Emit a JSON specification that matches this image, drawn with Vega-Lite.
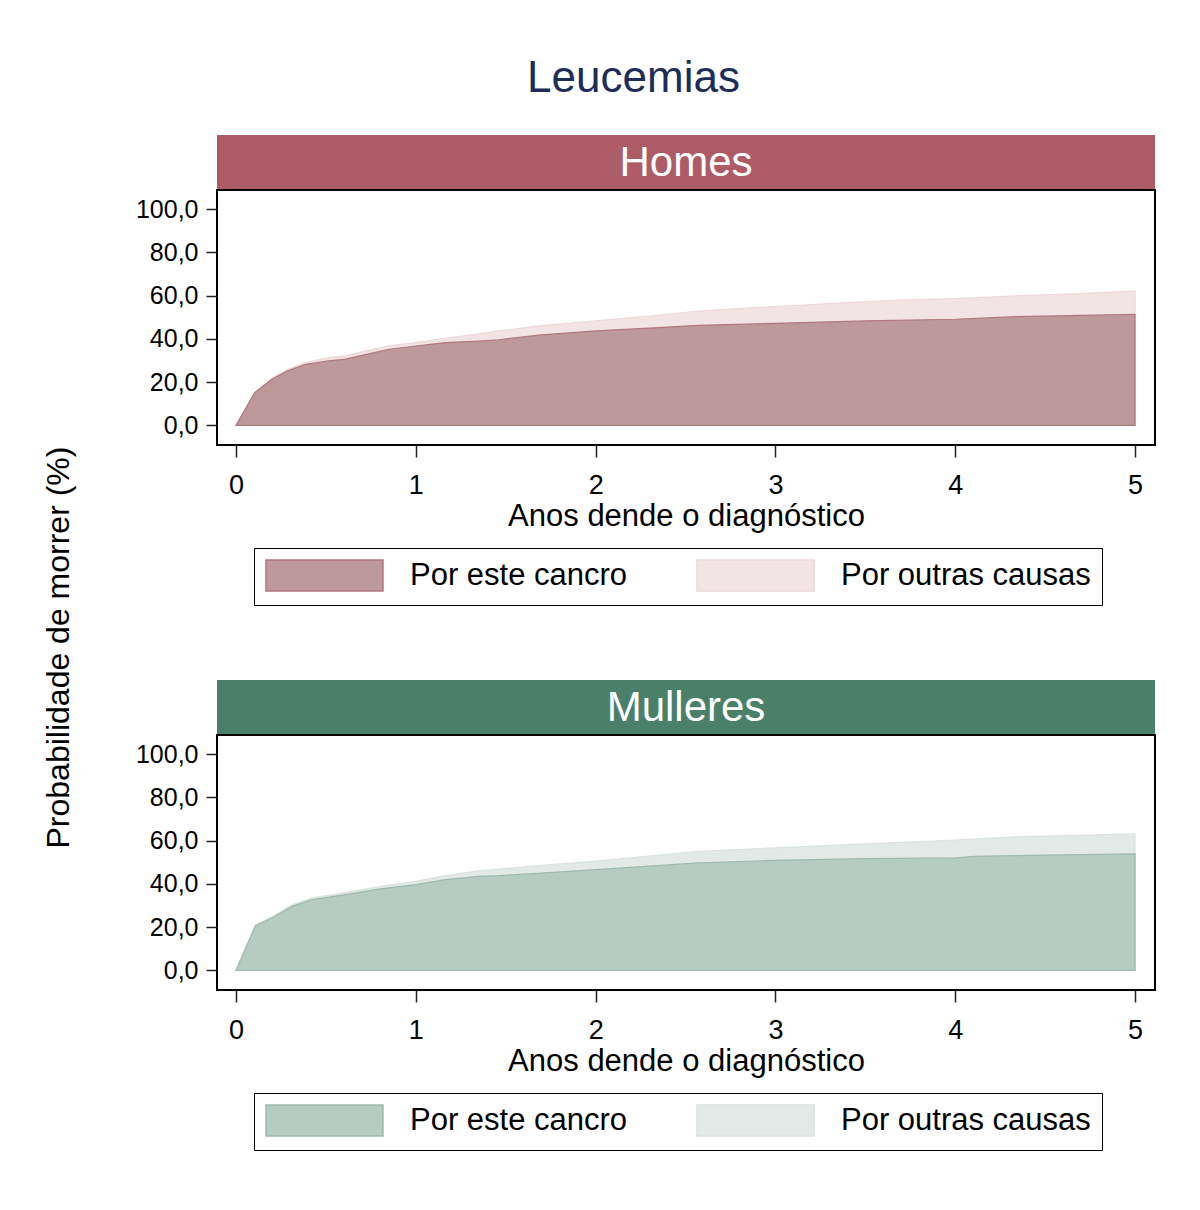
{
  "$schema": "https://vega.github.io/schema/vega-lite/v6.json",
  "padding": {"left": 41, "top": 57, "right": 10, "bottom": 10},
  "background": "white",
  "title": {"text": "Leucemias", "fontSize": 44, "fontWeight": "normal", "color": "#1c2d5a", "anchor": "middle", "dx": 35, "offset": 34},
  "config": {"font": "Liberation Sans", "view": {"stroke": null}},
  "datasets": {
    "homes": [
      {"t": 0, "v": 0, "causa": "Por outras causas"},
      {"t": 0.104, "v": 15.3, "causa": "Por outras causas"},
      {"t": 0.2, "v": 21.8, "causa": "Por outras causas"},
      {"t": 0.284, "v": 25.8, "causa": "Por outras causas"},
      {"t": 0.386, "v": 29.0, "causa": "Por outras causas"},
      {"t": 0.516, "v": 31.3, "causa": "Por outras causas"},
      {"t": 0.61, "v": 32.3, "causa": "Por outras causas"},
      {"t": 0.7, "v": 34.0, "causa": "Por outras causas"},
      {"t": 0.85, "v": 36.8, "causa": "Por outras causas"},
      {"t": 1.0, "v": 38.3, "causa": "Por outras causas"},
      {"t": 1.165, "v": 40.2, "causa": "Por outras causas"},
      {"t": 1.35, "v": 42.3, "causa": "Por outras causas"},
      {"t": 1.46, "v": 43.7, "causa": "Por outras causas"},
      {"t": 1.684, "v": 46.0, "causa": "Por outras causas"},
      {"t": 2.0, "v": 48.3, "causa": "Por outras causas"},
      {"t": 2.3, "v": 50.6, "causa": "Por outras causas"},
      {"t": 2.574, "v": 52.9, "causa": "Por outras causas"},
      {"t": 3.0, "v": 55.0, "causa": "Por outras causas"},
      {"t": 3.408, "v": 56.8, "causa": "Por outras causas"},
      {"t": 3.687, "v": 58.0, "causa": "Por outras causas"},
      {"t": 4.0, "v": 58.6, "causa": "Por outras causas"},
      {"t": 4.336, "v": 59.9, "causa": "Por outras causas"},
      {"t": 4.7, "v": 61.0, "causa": "Por outras causas"},
      {"t": 5.0, "v": 62.2, "causa": "Por outras causas"},
      {"t": 0, "v": 0, "causa": "Por este cancro"},
      {"t": 0.104, "v": 15.1, "causa": "Por este cancro"},
      {"t": 0.2, "v": 21.3, "causa": "Por este cancro"},
      {"t": 0.284, "v": 25.1, "causa": "Por este cancro"},
      {"t": 0.386, "v": 28.2, "causa": "Por este cancro"},
      {"t": 0.516, "v": 29.8, "causa": "Por este cancro"},
      {"t": 0.61, "v": 30.6, "causa": "Por este cancro"},
      {"t": 0.7, "v": 32.4, "causa": "Por este cancro"},
      {"t": 0.85, "v": 35.2, "causa": "Por este cancro"},
      {"t": 1.0, "v": 36.7, "causa": "Por este cancro"},
      {"t": 1.165, "v": 38.3, "causa": "Por este cancro"},
      {"t": 1.35, "v": 39.0, "causa": "Por este cancro"},
      {"t": 1.46, "v": 39.6, "causa": "Por este cancro"},
      {"t": 1.684, "v": 41.7, "causa": "Por este cancro"},
      {"t": 2.0, "v": 43.7, "causa": "Por este cancro"},
      {"t": 2.3, "v": 45.0, "causa": "Por este cancro"},
      {"t": 2.574, "v": 46.3, "causa": "Por este cancro"},
      {"t": 3.0, "v": 47.2, "causa": "Por este cancro"},
      {"t": 3.5, "v": 48.3, "causa": "Por este cancro"},
      {"t": 4.0, "v": 49.1, "causa": "Por este cancro"},
      {"t": 4.336, "v": 50.3, "causa": "Por este cancro"},
      {"t": 4.7, "v": 50.9, "causa": "Por este cancro"},
      {"t": 5.0, "v": 51.4, "causa": "Por este cancro"}
    ],
    "mulleres": [
      {"t": 0, "v": 0, "causa": "Por outras causas"},
      {"t": 0.108, "v": 21.0, "causa": "Por outras causas"},
      {"t": 0.2, "v": 24.8, "causa": "Por outras causas"},
      {"t": 0.312, "v": 30.3, "causa": "Por outras causas"},
      {"t": 0.423, "v": 33.5, "causa": "Por outras causas"},
      {"t": 0.61, "v": 36.0, "causa": "Por outras causas"},
      {"t": 0.794, "v": 38.8, "causa": "Por outras causas"},
      {"t": 1.0, "v": 41.2, "causa": "Por outras causas"},
      {"t": 1.165, "v": 43.8, "causa": "Por outras causas"},
      {"t": 1.35, "v": 46.0, "causa": "Por outras causas"},
      {"t": 1.63, "v": 48.1, "causa": "Por outras causas"},
      {"t": 2.0, "v": 50.5, "causa": "Por outras causas"},
      {"t": 2.574, "v": 55.1, "causa": "Por outras causas"},
      {"t": 3.0, "v": 56.7, "causa": "Por outras causas"},
      {"t": 3.5, "v": 58.5, "causa": "Por outras causas"},
      {"t": 4.0, "v": 60.3, "causa": "Por outras causas"},
      {"t": 4.34, "v": 61.8, "causa": "Por outras causas"},
      {"t": 5.0, "v": 63.1, "causa": "Por outras causas"},
      {"t": 0, "v": 0, "causa": "Por este cancro"},
      {"t": 0.108, "v": 20.7, "causa": "Por este cancro"},
      {"t": 0.2, "v": 24.2, "causa": "Por este cancro"},
      {"t": 0.312, "v": 29.6, "causa": "Por este cancro"},
      {"t": 0.423, "v": 32.7, "causa": "Por este cancro"},
      {"t": 0.61, "v": 35.0, "causa": "Por este cancro"},
      {"t": 0.794, "v": 37.6, "causa": "Por este cancro"},
      {"t": 1.0, "v": 39.7, "causa": "Por este cancro"},
      {"t": 1.165, "v": 42.0, "causa": "Por este cancro"},
      {"t": 1.35, "v": 43.5, "causa": "Por este cancro"},
      {"t": 1.46, "v": 43.8, "causa": "Por este cancro"},
      {"t": 1.63, "v": 44.6, "causa": "Por este cancro"},
      {"t": 2.0, "v": 46.6, "causa": "Por este cancro"},
      {"t": 2.574, "v": 49.7, "causa": "Por este cancro"},
      {"t": 3.0, "v": 50.9, "causa": "Por este cancro"},
      {"t": 3.5, "v": 51.7, "causa": "Por este cancro"},
      {"t": 4.0, "v": 52.0, "causa": "Por este cancro"},
      {"t": 4.11, "v": 52.8, "causa": "Por este cancro"},
      {"t": 4.5, "v": 53.3, "causa": "Por este cancro"},
      {"t": 5.0, "v": 53.9, "causa": "Por este cancro"}
    ],
    "hdrH": [{"label": "Homes"}],
    "hdrM": [{"label": "Mulleres"}]
  },
  "bounds": "flush",
  "spacing": 545,
  "resolve": {"scale": {"fill": "independent", "stroke": "independent", "x": "independent", "y": "independent"}, "legend": {"fill": "independent", "stroke": "independent"}},
  "vconcat": [
    {
      "bounds": "flush",
      "spacing": 0,
      "vconcat": [
        {
          "width": 938, "height": 55,
          "view": {"fill": "#ad5b66", "stroke": null},
          "data": {"name": "hdrH"},
          "mark": {"type": "text", "fontSize": 42, "color": "white", "font": "Liberation Sans"},
          "encoding": {"text": {"field": "label", "type": "nominal"}}
        },
        {
          "width": 938, "height": 255,
          "view": {"stroke": "#000", "strokeWidth": 2},
          "data": {"name": "homes"},
          "encoding": {
            "x": {"field": "t", "type": "quantitative", "scale": {"domain": [-0.106, 5.111], "nice": false, "zero": false},
              "axis": {"values": [0, 1, 2, 3, 4, 5], "format": "d", "labelFontSize": 27, "labelColor": "#000", "tickSize": 12, "tickColor": "#222", "tickWidth": 1.5, "domain": false, "grid": false, "labelPadding": 15,
                "title": "Anos dende o diagnóstico", "titleFontSize": 31, "titleFontWeight": "normal", "titleColor": "#000", "titlePadding": 3}},
            "y": {"field": "v", "type": "quantitative", "scale": {"domain": [-9.1, 108.9], "nice": false, "zero": false},
              "axis": {"values": [0, 20, 40, 60, 80, 100], "labelExpr": "replace(format(datum.value, '.1f'), '.', ',')", "labelFontSize": 25, "labelColor": "#000", "tickSize": 11, "tickColor": "#222", "tickWidth": 1.5, "domain": false, "grid": false, "labelPadding": 8,
                "title": "Probabilidade de morrer (%)", "titleFontSize": 32, "titleFontWeight": "normal", "titleColor": "#000", "titleX": -159, "titleY": 457, "titleBaseline": "middle", "titleAngle": 270}},
            "fill": {"field": "causa", "type": "nominal", "scale": {"domain": ["Por este cancro", "Por outras causas"], "range": ["#bd999b", "#f2e3e4"]},
              "legend": {"title": null, "orient": "none", "legendX": 37, "legendY": 413, "direction": "horizontal", "strokeColor": "#000", "padding": 11,
                "symbolType": "M-1,-1H6.548V1H-1Z", "symbolSize": 961, "symbolStrokeWidth": 1.5, "labelFontSize": 31, "labelColor": "#000", "labelOffset": 112, "columnPadding": 66, "labelLimit": 400}},
            "stroke": {"field": "causa", "type": "nominal", "scale": {"domain": ["Por este cancro", "Por outras causas"], "range": ["#b0797d", "#eed7d9"]},
              "legend": {"title": null, "orient": "none", "legendX": 37, "legendY": 413, "direction": "horizontal", "strokeColor": "#000", "padding": 11,
                "symbolType": "M-1,-1H6.548V1H-1Z", "symbolSize": 961, "symbolStrokeWidth": 1.5, "labelFontSize": 31, "labelColor": "#000", "labelOffset": 112, "columnPadding": 66, "labelLimit": 400}}
          },
          "layer": [
            {"transform": [{"filter": "datum.causa === 'Por outras causas'"}], "mark": {"type": "area", "strokeWidth": 1.2, "opacity": 1}},
            {"transform": [{"filter": "datum.causa === 'Por este cancro'"}], "mark": {"type": "area", "strokeWidth": 1.2, "opacity": 1}}
          ]
        }
      ]
    },
    {
      "bounds": "flush",
      "spacing": 0,
      "vconcat": [
        {
          "width": 938, "height": 55,
          "view": {"fill": "#4a7f69", "stroke": null},
          "data": {"name": "hdrM"},
          "mark": {"type": "text", "fontSize": 42, "color": "white", "font": "Liberation Sans"},
          "encoding": {"text": {"field": "label", "type": "nominal"}}
        },
        {
          "width": 938, "height": 255,
          "view": {"stroke": "#000", "strokeWidth": 2},
          "data": {"name": "mulleres"},
          "encoding": {
            "x": {"field": "t", "type": "quantitative", "scale": {"domain": [-0.106, 5.111], "nice": false, "zero": false},
              "axis": {"values": [0, 1, 2, 3, 4, 5], "format": "d", "labelFontSize": 27, "labelColor": "#000", "tickSize": 12, "tickColor": "#222", "tickWidth": 1.5, "domain": false, "grid": false, "labelPadding": 15,
                "title": "Anos dende o diagnóstico", "titleFontSize": 31, "titleFontWeight": "normal", "titleColor": "#000", "titlePadding": 3}},
            "y": {"field": "v", "type": "quantitative", "scale": {"domain": [-9.1, 108.9], "nice": false, "zero": false},
              "axis": {"values": [0, 20, 40, 60, 80, 100], "labelExpr": "replace(format(datum.value, '.1f'), '.', ',')", "labelFontSize": 25, "labelColor": "#000", "tickSize": 11, "tickColor": "#222", "tickWidth": 1.5, "domain": false, "grid": false, "labelPadding": 8, "title": null}},
            "fill": {"field": "causa", "type": "nominal", "scale": {"domain": ["Por este cancro", "Por outras causas"], "range": ["#b6cbc1", "#e3e9e6"]},
              "legend": {"title": null, "orient": "none", "legendX": 37, "legendY": 413, "direction": "horizontal", "strokeColor": "#000", "padding": 11,
                "symbolType": "M-1,-1H6.548V1H-1Z", "symbolSize": 961, "symbolStrokeWidth": 1.5, "labelFontSize": 31, "labelColor": "#000", "labelOffset": 112, "columnPadding": 66, "labelLimit": 400}},
            "stroke": {"field": "causa", "type": "nominal", "scale": {"domain": ["Por este cancro", "Por outras causas"], "range": ["#9cbbad", "#d9e3de"]},
              "legend": {"title": null, "orient": "none", "legendX": 37, "legendY": 413, "direction": "horizontal", "strokeColor": "#000", "padding": 11,
                "symbolType": "M-1,-1H6.548V1H-1Z", "symbolSize": 961, "symbolStrokeWidth": 1.5, "labelFontSize": 31, "labelColor": "#000", "labelOffset": 112, "columnPadding": 66, "labelLimit": 400}}
          },
          "layer": [
            {"transform": [{"filter": "datum.causa === 'Por outras causas'"}], "mark": {"type": "area", "strokeWidth": 1.2, "opacity": 1}},
            {"transform": [{"filter": "datum.causa === 'Por este cancro'"}], "mark": {"type": "area", "strokeWidth": 1.2, "opacity": 1}}
          ]
        }
      ]
    }
  ]
}
